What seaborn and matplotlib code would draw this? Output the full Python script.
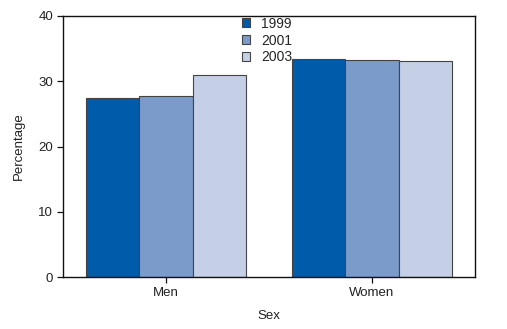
import matplotlib
matplotlib.use("Agg")
import matplotlib.pyplot as plt
import seaborn as sns
import pandas as pd

sexes = ["Men", "Women"]
years = ["1999", "2001", "2003"]
men_values = [27.4, 27.7, 31.0]
women_values = [33.4, 33.3, 33.1]
colors = ["#005BAA", "#7B9BCB", "#C5D0E7"]

rows = []
for y, m, w in zip(years, men_values, women_values):
    rows.append({"Sex": "Men", "Year": y, "Percentage": m})
    rows.append({"Sex": "Women", "Year": y, "Percentage": w})
df = pd.DataFrame(rows)

sns.set_style("white")
plt.rcParams["font.family"] = ["Liberation Sans", "DejaVu Sans"]

fig = plt.figure(figsize=(5.07, 3.29), dpi=100)
ax = fig.add_axes([63/507, 1-277/329, (475-63)/507, (277-16)/329])

sns.barplot(data=df, x="Sex", y="Percentage", hue="Year", order=sexes,
            hue_order=years, palette=colors, width=0.773, ax=ax,
            edgecolor="#444444", linewidth=0.8, saturation=1)

ax.set_xlim(-0.5, 1.5)
ax.set_ylim(0, 40)
ax.set_yticks([0, 10, 20, 30, 40])
for s in ax.spines.values():
    s.set_visible(True)
    s.set_color("#111111")
    s.set_linewidth(1.0)
ax.tick_params(axis="both", direction="out", length=4, width=0.9, color="#111111",
               labelsize=9.5, labelcolor="#222222", bottom=True, left=True, pad=3)
ax.set_xlabel("Sex", fontsize=9.5, color="#222222", labelpad=8)
ax.set_ylabel("Percentage", fontsize=9.5, color="#222222", labelpad=10)

leg = ax.legend(loc="upper center", bbox_to_anchor=(0.495, 1.045), frameon=False,
                fontsize=10, handlelength=0.6, handleheight=0.6, handletextpad=0.8,
                labelspacing=0.2, title=None)

fig.savefig("out.png", dpi=100)
